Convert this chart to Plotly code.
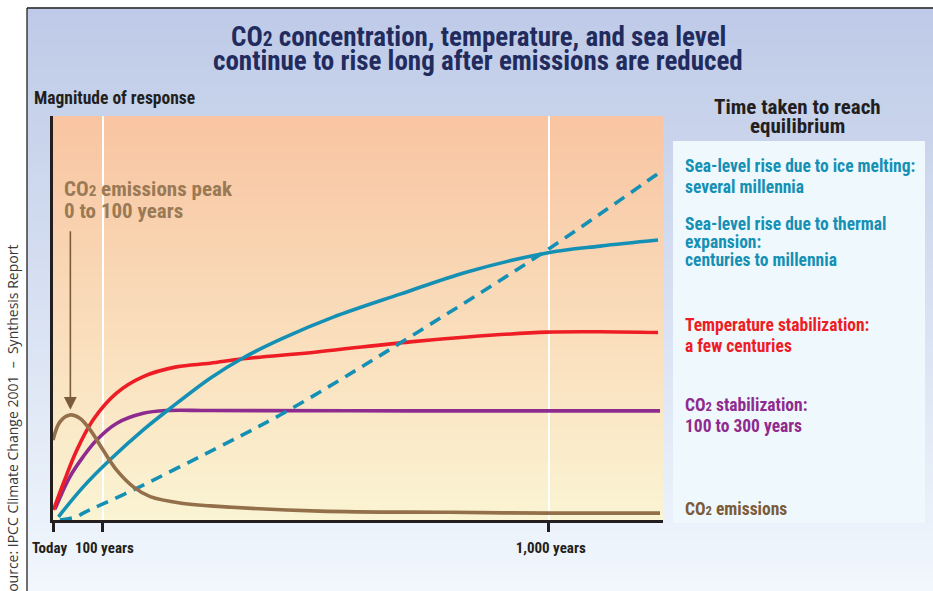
import plotly.graph_objects as go

# ---------------- data (x in years, y in relative magnitude 0-100) ----------------
emis_years = [0, 14, 34, 54, 75, 101, 128, 162, 196, 263, 317, 538, 800, 996, 1224]
emis_vals = [19.8, 24.3, 26.0, 25.2, 22.3, 17.3, 12.4, 8.2, 5.8, 4.1, 3.5, 2.2, 1.9, 1.7, 1.7]

co2stab_years = [4, 34, 61, 88, 128, 182, 229, 317, 720, 1224]
co2stab_vals = [2.7, 10.7, 15.7, 19.8, 23.9, 26.4, 27.1, 27.1, 27.0, 27.0]

temp_years = [1, 21, 48, 81, 128, 182, 249, 317, 383, 532, 720, 835, 996, 1103, 1220]
temp_vals = [2.5, 9.1, 17.3, 24.8, 31.4, 35.5, 37.9, 38.8, 39.9, 41.6, 44.1, 45.3, 46.5, 46.6, 46.4]

thermal_years = [11, 61, 115, 182, 236, 317, 383, 464, 565, 700, 835, 996, 1103, 1220]
thermal_vals = [0.8, 8.2, 14.9, 22.3, 27.6, 35.1, 40.1, 45.0, 50.2, 55.9, 61.4, 66.1, 67.8, 69.3]

ice_years = [14, 48, 61, 161, 351, 458, 579, 700, 996, 1210, 1224]
ice_vals = [0.0, 0.8, 1.7, 7.4, 19.1, 26.0, 34.7, 43.8, 66.8, 84.9, 86.1]

tick_vals = [0, 100, 1000]
tick_text = ["Today", "100 years", "1,000 years"]

# ---------------- layout helpers ----------------
W, H = 933, 591
L, R, T, B = 53, 270, 116, 71
PW, PH = W - L - R, H - T - B


def pxx(px):
    return (px - L) / PW


def pxy(py):
    return (H - B - py) / PH


def lerp(c0, c1, f):
    return "rgb(%d,%d,%d)" % tuple(round(a + (b - a) * f) for a, b in zip(c0, c1))


NARROW = "Liberation Sans Narrow, Arial Narrow, Roboto Condensed, DejaVu Sans Condensed, sans-serif"
C_BLUE = "#1590B5"
C_RED = "#EE1D25"
C_PURPLE = "#8E2B8F"
C_BROWN = "#93704A"
C_DARK = "#231F20"

shapes = []
# outer background gradient
top_c, bot_c = (190, 202, 231), (241, 247, 253)
n = 60
y0, y1 = 8, H
for i in range(n):
    a = y0 + (y1 - y0) * i / n
    b = y0 + (y1 - y0) * (i + 1) / n
    shapes.append(dict(type="rect", xref="paper", yref="paper", layer="below",
                       x0=pxx(27), x1=pxx(W + 2), y0=pxy(a - 0.5), y1=pxy(b + 0.5),
                       line=dict(width=0), fillcolor=lerp(top_c, bot_c, (i + 0.5) / n)))
# plot area gradient
ptop, pbot = (249, 196, 161), (250, 244, 211)
n = 80
for i in range(n):
    a = T + PH * i / n
    b = T + PH * (i + 1) / n
    shapes.append(dict(type="rect", xref="paper", yref="paper", layer="below",
                       x0=0, x1=1, y0=pxy(a - 0.4 if i else a), y1=pxy(b + 0.4 if i < n - 1 else b),
                       line=dict(width=0), fillcolor=lerp(ptop, pbot, (i + 0.5) / n)))
# right info panel
shapes.append(dict(type="rect", xref="paper", yref="paper", layer="below",
                   x0=pxx(673), x1=pxx(925), y0=pxy(523), y1=pxy(141),
                   line=dict(width=0), fillcolor="#EFF8FC"))
# frame lines
shapes.append(dict(type="line", xref="paper", yref="paper", layer="above",
                   x0=pxx(27), x1=pxx(27), y0=pxy(8), y1=pxy(H + 2), line=dict(color="#222", width=1.3)))
shapes.append(dict(type="line", xref="paper", yref="paper", layer="above",
                   x0=pxx(27), x1=pxx(W + 2), y0=pxy(8), y1=pxy(8), line=dict(color="#222", width=1.3)))

CO2 = 'CO<span style="font-size:72%">2</span>'

annotations = []


def ann(text, x, y, size, color, xanchor="left", family=NARROW, bold=True, **kw):
    annotations.append(dict(text=text, x=pxx(x), y=pxy(y), xref="paper", yref="paper",
                            xanchor=xanchor, yanchor="middle", showarrow=False,
                            font=dict(family=family, size=size, color=color,
                                      weight="bold" if bold else "normal"), **kw))


TITLE_C = "#222B5E"
ann(CO2 + " concentration, temperature, and sea level", 478, 37, 27, TITLE_C, "center")
ann("continue to rise long after emissions are reduced", 478, 61, 27, TITLE_C, "center")
ann("Magnitude of response", 32, 98, 17.5, C_DARK)
ann("Time taken to reach", 797, 107, 21, C_DARK, "center")
ann("equilibrium", 797, 126, 21, C_DARK, "center")

RS = 17.5
ann("Sea-level rise due to ice melting:", 683, 166, RS, C_BLUE)
ann("several millennia", 683, 187, RS, C_BLUE)
ann("Sea-level rise due to thermal", 683, 224, RS, C_BLUE)
ann("expansion:", 683, 242, RS, C_BLUE)
ann("centuries to millennia", 683, 260, RS, C_BLUE)
ann("Temperature stabilization:", 683, 325, RS, C_RED)
ann("a few centuries", 683, 346, RS, C_RED)
ann(CO2 + " stabilization:", 683, 405, RS, C_PURPLE)
ann("100 to 300 years", 683, 426, RS, C_PURPLE)
ann(CO2 + " emissions", 683, 509, RS, "#7A5C3A")

ann(CO2 + " emissions peak", 62, 189, 21, "#9A7A55")
ann("0 to 100 years", 62, 211, 21, "#9A7A55")

# source (rotated)
annotations.append(dict(text="Source: IPCC Climate Change 2001  \u2013  Synthesis Report",
                        x=pxx(12), y=pxy(243), xref="paper", yref="paper",
                        xanchor="center", yanchor="top", textangle=-90, showarrow=False,
                        font=dict(family="Open Sans, Lato, sans-serif", size=14, color="#3a3a3a")))

# arrow pointing to emissions peak
annotations.append(dict(x=35, y=27.3, xref="x", yref="y", ax=0, ay=-180, axref="pixel", ayref="pixel",
                        text="", showarrow=True, arrowhead=2, arrowsize=1.6, arrowwidth=1.6,
                        arrowcolor="#7A5C3A", standoff=0))

fig = go.Figure()
common = dict(mode="lines", line_shape="spline", hoverinfo="skip", showlegend=False)
fig.add_trace(go.Scatter(x=co2stab_years, y=co2stab_vals, line=dict(color=C_PURPLE, width=3.6, smoothing=1), **common))
fig.add_trace(go.Scatter(x=temp_years, y=temp_vals, line=dict(color=C_RED, width=3.6, smoothing=1), **common))
fig.add_trace(go.Scatter(x=ice_years, y=ice_vals, line=dict(color=C_BLUE, width=3.6, dash="12px,8px", smoothing=1), **common))
fig.add_trace(go.Scatter(x=thermal_years, y=thermal_vals, line=dict(color=C_BLUE, width=3.6, smoothing=1), **common))
fig.add_trace(go.Scatter(x=emis_years, y=emis_vals, line=dict(color=C_BROWN, width=3.6, smoothing=1), **common))

NB = "\u00a0"
tick_text_padded = [tick_text[0] + NB * 2, NB + tick_text[1], NB + tick_text[2]]

fig.update_layout(
    width=W, height=H,
    margin=dict(l=L, r=R, t=T, b=B, pad=0, autoexpand=False),
    paper_bgcolor="white",
    plot_bgcolor="rgba(0,0,0,0)",
    shapes=shapes,
    annotations=annotations,
    xaxis=dict(range=[0, 1230], tickvals=tick_vals, ticktext=tick_text_padded,
               showgrid=True, gridcolor="white", gridwidth=2, zeroline=False,
               showline=True, linecolor=C_DARK, linewidth=3,
               ticks="outside", ticklen=9, tickwidth=3, tickcolor=C_DARK,
               ticklabelstandoff=3, tickangle=0, automargin=False,
               tickfont=dict(family=NARROW, size=15, color=C_DARK, weight="bold"),
               fixedrange=True),
    yaxis=dict(range=[0, 100], showgrid=False, zeroline=False, showticklabels=False,
               showline=True, linecolor=C_DARK, linewidth=3, ticks="", fixedrange=True,
               automargin=False),
)

fig.write_html("out.html", config={"displayModeBar": False},
               post_script="document.body.style.margin='0';")
